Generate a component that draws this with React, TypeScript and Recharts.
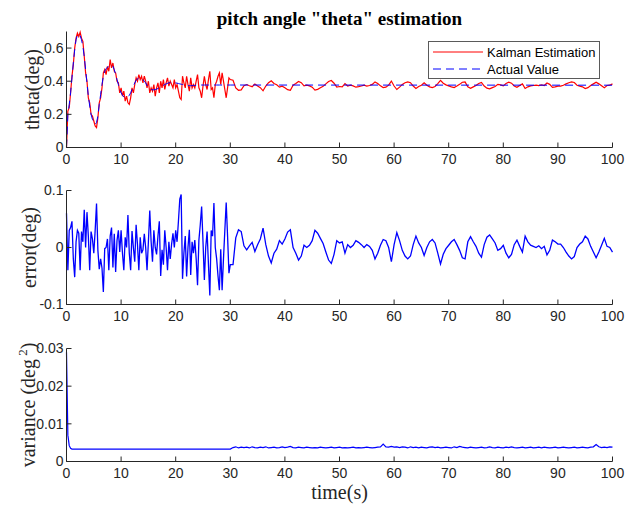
import React from "react"
import { LineChart, Line, XAxis, YAxis, Legend } from "recharts"

// samples: 0..30 s every 0.25 s, then 30.5..100 s every 0.5 s
const errFast = [
  0.06, -0.04, 0.03, 0.035,
  0.046, -0.02, -0.052, 0.01,
  0.03, 0.025, -0.04, 0.028,
  0.01, 0.066, 0.0, 0.062,
  0.02, -0.04, 0.028, 0.015,
  -0.01, 0.03, 0.077, -0.005,
  -0.038, -0.02, -0.036, -0.078,
  -0.002, 0.0, 0.015, -0.04,
  0.02, 0.035, -0.035, 0.024,
  -0.043, 0.012, 0.03, -0.008,
  0.03, -0.01, -0.04, 0.018,
  0.0, 0.057, -0.01, -0.04,
  0.029, 0.0, -0.025, 0.04,
  0.005, -0.04, 0.018, -0.01,
  -0.004, 0.024, 0.0, -0.04,
  0.01, 0.065, 0.01, -0.025,
  0.03, 0.0, -0.012, 0.02,
  0.046, -0.05, -0.004, -0.03,
  0.03, 0.0, -0.04, 0.01,
  -0.02, 0.006, 0.025, 0.0,
  0.03, 0.01, 0.046, 0.085,
  0.093, -0.055, -0.01, 0.02,
  -0.051, 0.0, 0.031, -0.048,
  0.01, -0.01, 0.013, -0.02,
  -0.066, 0.013, 0.04, 0.072,
  0.01, -0.057, 0.0, 0.028,
  -0.03, -0.084, 0.03, 0.02,
  0.078, 0.0, -0.02, -0.05,
  -0.075, -0.003, -0.075, -0.02,
  0.03, 0.079, 0.02, -0.045,
  -0.03,
]
const errSlow = [
  -0.03, 0.017, 0.031, 0.028, 0.003, -0.004, 0.003, 0.009, -0.007, 0.005,
  0.015, 0.034, 0.005, -0.015, -0.027, -0.01, -0.003, 0.012, 0.006, 0.015,
  0.027, 0.031, 0.0, -0.01, -0.022, -0.015, 0.004, 0.0, 0.004, 0.012,
  0.03, 0.025, 0.016, 0.007, -0.008, -0.022, -0.028, -0.012, 0.012, 0.008,
  0.01, -0.01, 0.005, 0.0, 0.004, 0.012, 0.009, 0.005, 0.0, 0.005,
  0.002, -0.005, -0.02, -0.01, 0.004, 0.014, 0.012, 0.0, -0.025, 0.005,
  0.026, 0.012, -0.005, -0.015, -0.02, -0.015, 0.005, 0.02, 0.008, 0.0,
  -0.014, 0.0, 0.01, 0.014, 0.008, -0.01, -0.029, -0.012, -0.002, 0.004,
  0.01, 0.014, 0.005, -0.005, -0.018, -0.02, 0.01, 0.019, 0.01, 0.002,
  -0.01, -0.017, 0.005, 0.018, 0.022, 0.015, 0.008, -0.005, -0.002, 0.004,
  -0.01, -0.018, -0.012, 0.005, 0.013, 0.002, -0.008, 0.02, 0.01, 0.004,
  0.002, 0.0, 0.003, -0.002, 0.002, -0.013, -0.005, 0.013, 0.01, 0.006,
  0.006, 0.0, -0.008, -0.015, -0.02, -0.016, 0.0, 0.006, 0.01, 0.02,
  0.015, 0.002, -0.008, -0.018, -0.008, 0.004, 0.016, 0.002, 0.0, -0.008,
]
const estFast = [
  0.0, 0.22, 0.24, 0.33,
  0.43, 0.5, 0.6, 0.66,
  0.69, 0.67, 0.695, 0.66,
  0.64, 0.55, 0.45, 0.4,
  0.3, 0.27, 0.2, 0.19,
  0.16, 0.13, 0.12, 0.18,
  0.27, 0.3, 0.36, 0.45,
  0.47, 0.44, 0.49, 0.46,
  0.53, 0.48, 0.51, 0.46,
  0.45, 0.4, 0.39, 0.33,
  0.36, 0.31, 0.34, 0.28,
  0.31, 0.27, 0.26, 0.3,
  0.36, 0.33, 0.38, 0.42,
  0.4, 0.44, 0.41, 0.43,
  0.39, 0.43, 0.4, 0.36,
  0.4, 0.33, 0.36, 0.34,
  0.38, 0.31, 0.36, 0.39,
  0.33, 0.4, 0.36, 0.41,
  0.35, 0.39, 0.42, 0.37,
  0.4, 0.38, 0.36, 0.41,
  0.36, 0.38, 0.34, 0.3,
  0.29, 0.43, 0.39, 0.36,
  0.43, 0.38, 0.34, 0.42,
  0.36, 0.38, 0.36, 0.4,
  0.44, 0.36, 0.34, 0.3,
  0.37, 0.43, 0.38, 0.35,
  0.41, 0.46, 0.35, 0.36,
  0.3, 0.38, 0.4, 0.43,
  0.45, 0.38, 0.45, 0.4,
  0.35, 0.3, 0.36, 0.42,
  0.41,
]
const estSlow = [
  0.406, 0.359, 0.345, 0.348, 0.373, 0.38, 0.373, 0.367, 0.383, 0.371,
  0.361, 0.342, 0.371, 0.391, 0.403, 0.386, 0.379, 0.364, 0.37, 0.361,
  0.349, 0.345, 0.376, 0.386, 0.398, 0.391, 0.372, 0.376, 0.372, 0.364,
  0.346, 0.351, 0.36, 0.369, 0.384, 0.398, 0.404, 0.388, 0.364, 0.368,
  0.366, 0.386, 0.371, 0.376, 0.372, 0.364, 0.367, 0.371, 0.376, 0.371,
  0.374, 0.381, 0.396, 0.386, 0.372, 0.362, 0.364, 0.376, 0.401, 0.371,
  0.35, 0.364, 0.381, 0.391, 0.396, 0.391, 0.371, 0.356, 0.368, 0.376,
  0.39, 0.376, 0.366, 0.362, 0.368, 0.386, 0.405, 0.388, 0.378, 0.372,
  0.366, 0.362, 0.371, 0.381, 0.394, 0.396, 0.366, 0.357, 0.366, 0.374,
  0.386, 0.393, 0.371, 0.358, 0.354, 0.361, 0.368, 0.381, 0.378, 0.372,
  0.386, 0.394, 0.388, 0.371, 0.363, 0.374, 0.384, 0.356, 0.366, 0.372,
  0.374, 0.376, 0.373, 0.378, 0.374, 0.389, 0.381, 0.363, 0.366, 0.37,
  0.37, 0.376, 0.384, 0.391, 0.396, 0.392, 0.376, 0.37, 0.366, 0.356,
  0.361, 0.374, 0.384, 0.394, 0.384, 0.372, 0.36, 0.374, 0.376, 0.384,
]
const actualFast = [
  0.0, 0.2, 0.26, 0.33,
  0.42, 0.51, 0.59, 0.65,
  0.68, 0.685, 0.675, 0.65,
  0.61, 0.55, 0.47, 0.39,
  0.31, 0.25, 0.2, 0.17,
  0.15, 0.14, 0.15, 0.19,
  0.26, 0.32, 0.38, 0.43,
  0.46, 0.475, 0.485, 0.49,
  0.495, 0.5, 0.49, 0.47,
  0.44, 0.41, 0.38, 0.35,
  0.33, 0.315, 0.305, 0.3,
  0.3, 0.305, 0.315, 0.33,
  0.35, 0.37, 0.39, 0.405,
  0.415, 0.42, 0.42, 0.415,
  0.41, 0.4, 0.39, 0.375,
  0.365, 0.355, 0.35, 0.348,
  0.348, 0.35, 0.352, 0.356,
  0.36, 0.365, 0.37, 0.375,
  0.38, 0.384, 0.387, 0.39,
  0.392, 0.393, 0.393, 0.392,
  0.39, 0.388, 0.386, 0.384,
  0.382, 0.38, 0.378, 0.376,
  0.375, 0.374, 0.373, 0.373,
  0.373, 0.374, 0.375, 0.376,
  0.377, 0.377, 0.377, 0.377,
  0.377, 0.377, 0.377, 0.377,
  0.377, 0.377, 0.377, 0.377,
  0.377, 0.377, 0.377, 0.377,
  0.377, 0.377, 0.377, 0.377,
  0.377, 0.377, 0.377, 0.377,
  0.377,
]
const actualEnd = 0.376
const varHeadTime = [0, 0.25, 0.5, 0.75, 1, 30]
const varHead = [0.029, 0.007, 0.0042, 0.0035, 0.0033, 0.0033]
const varSlow = [
  0.0037, 0.0039, 0.0036, 0.0038, 0.0037, 0.0038, 0.0036, 0.0039, 0.0037, 0.0036,
  0.0038, 0.0037, 0.0039, 0.0036, 0.0037, 0.0038, 0.0036, 0.0037, 0.0039, 0.0037,
  0.0038, 0.004, 0.0037, 0.0036, 0.0038, 0.0037, 0.0036, 0.0038, 0.0037, 0.0036,
  0.0037, 0.0036, 0.0038, 0.0037, 0.0036, 0.0037, 0.0038, 0.0036, 0.0037, 0.0038,
  0.0036, 0.0037, 0.0036, 0.0037, 0.0038, 0.0036, 0.0037, 0.0036, 0.0037, 0.0038,
  0.0037, 0.0036, 0.0037, 0.0038, 0.0039, 0.0046, 0.0039, 0.0038, 0.004, 0.0038,
  0.0039, 0.0037, 0.0039, 0.0038, 0.0036, 0.0039, 0.0037, 0.0038, 0.0036, 0.0038,
  0.0037, 0.0036, 0.0038, 0.0039, 0.0037, 0.0038, 0.0036, 0.0037, 0.0038, 0.0037,
  0.0036, 0.0039, 0.0037, 0.004, 0.0038, 0.0037, 0.0036, 0.0038, 0.0037, 0.0036,
  0.0037, 0.0038, 0.0036, 0.0037, 0.0039, 0.0037, 0.0036, 0.0038, 0.0037, 0.0036,
  0.0038, 0.0037, 0.0039, 0.0037, 0.0036, 0.0037, 0.0038, 0.0036, 0.0037, 0.0038,
  0.0036, 0.0037, 0.0038, 0.0036, 0.0038, 0.0037, 0.0036, 0.0037, 0.0038, 0.0036,
  0.0037, 0.0038, 0.0037, 0.0036, 0.0037, 0.0038, 0.0036, 0.0037, 0.0038, 0.0037,
  0.0036, 0.0038, 0.0039, 0.0045, 0.0039, 0.0037, 0.0038, 0.0037, 0.0039, 0.0038,
]

const timeTicks = [0, 10, 20, 30, 40, 50, 60, 70, 80, 90, 100]
const thetaTicks = [0, 0.2, 0.4, 0.6]
const errorTicks = [-0.1, 0, 0.1]
const varTicks = [0, 0.01, 0.02, 0.03]
const legendOrder = ["Kalman Estimation", "Actual Value"]

const tFast = errFast.map((_, i) => i * 0.25)
const tSlow = errSlow.map((_, i) => 30.5 + i * 0.5)

const estRows = [
  ...tFast.map((t, i) => ({ t, v: estFast[i] })),
  ...tSlow.map((t, i) => ({ t, v: estSlow[i] })),
]
const actRows = [...tFast.map((t, i) => ({ t, v: actualFast[i] })), { t: 100, v: actualEnd }]
const errRows = [
  ...tFast.map((t, i) => ({ t, v: errFast[i] })),
  ...tSlow.map((t, i) => ({ t, v: errSlow[i] })),
]
const varRows = [
  ...varHeadTime.map((t, i) => ({ t, v: varHead[i] })),
  ...tSlow.map((t, i) => ({ t, v: varSlow[i] })),
]

const INK = "#262626"
const SERIF = "'Liberation Serif', 'Times New Roman', serif"
const SANS = "'Liberation Sans', Arial, sans-serif"
const tickFont = { fill: INK, fontSize: 14, fontFamily: SANS }

function SideLabel(props: any) {
  const { viewBox, text, base, cy, sup } = props
  const mid = viewBox && viewBox.height ? viewBox.y + viewBox.height / 2 : cy
  return (
    <text
      x={base}
      y={mid}
      transform={`rotate(-90 ${base} ${mid})`}
      textAnchor="middle"
      fontFamily={SERIF}
      fontSize={20}
      fill={INK}
    >
      {text}
      {sup ? (
        <>
          <tspan dy={-8} fontSize={13}>{" " + sup}</tspan>
          <tspan dy={8}>)</tspan>
        </>
      ) : null}
    </text>
  )
}

// box with inward ticks on all four sides, like the matlab default
function frame(yDomain: number[], yTicks: number[], label: any) {
  return [
    <XAxis key="xb" xAxisId="b" dataKey="t" type="number" domain={[0, 100]} ticks={timeTicks}
      interval={0} height={20} stroke={INK} tickSize={-5} tickMargin={12} tick={tickFont} />,
    <XAxis key="xt" xAxisId="t" orientation="top" dataKey="t" type="number" domain={[0, 100]}
      ticks={timeTicks} interval={0} height={0} stroke={INK} tickSize={-5} tick={false} />,
    <YAxis key="yl" yAxisId="l" type="number" domain={yDomain} ticks={yTicks} interval={0}
      width={60} stroke={INK} tickSize={-5} tickMargin={8} tick={tickFont} label={label} />,
    <YAxis key="yr" yAxisId="r" orientation="right" type="number" domain={yDomain} ticks={yTicks}
      interval={0} width={0} stroke={INK} tickSize={-5} tick={false} />,
  ]
}

function ThetaLegend(props: any) {
  const items = [...(props.payload || [])].sort(
    (a: any, b: any) => legendOrder.indexOf(a.value) - legendOrder.indexOf(b.value)
  )
  return (
    <div style={{ width: 172, height: 38, boxSizing: "border-box", border: "1px solid #5a5a5a", background: "#fff" }}>
      <svg width={170} height={36} style={{ display: "block" }}>
        {items.map((it: any, i: number) => (
          <g key={it.value}>
            <line x1={4} x2={54} y1={10 + i * 17} y2={10 + i * 17} stroke={it.color}
              strokeDasharray={it.payload && it.payload.strokeDasharray} />
            <text x={58} y={14.5 + i * 17} fontFamily={SANS} fontSize={13} fill="#000">{it.value}</text>
          </g>
        ))}
      </svg>
    </div>
  )
}

export default function App() {
  return (
    <div style={{ position: "absolute", left: 0, top: 0, width: 626, height: 508, background: "#fff" }}>
      <div style={{ position: "absolute", left: 0, top: 0 }}>
        <LineChart width={626} height={170} margin={{ top: 31.5, right: 13.5, bottom: 2.5, left: 6.5 }}>
          {frame([0, 0.7], thetaTicks, <SideLabel text="theta(deg)" base={39} cy={89.5} />)}
          <Line xAxisId="b" yAxisId="l" data={estRows} dataKey="v" name="Kalman Estimation" type="linear"
            stroke="#ff0000" strokeWidth={1.2} dot={false} isAnimationActive={false} />
          <Line xAxisId="b" yAxisId="l" data={actRows} dataKey="v" name="Actual Value" type="linear"
            stroke="#0000ff" strokeWidth={1} strokeDasharray="8 5" dot={false} isAnimationActive={false} />
          <Legend content={ThetaLegend} layout="horizontal" verticalAlign="middle" align="center"
            wrapperStyle={{ left: 428, top: 41, width: 172, height: 38 }} />
        </LineChart>
      </div>
      <div style={{ position: "absolute", left: 0, top: 170 }}>
        <LineChart width={626} height={170} data={errRows} margin={{ top: 20.5, right: 13.5, bottom: 15.5, left: 6.5 }}>
          {frame([-0.1, 0.1], errorTicks, <SideLabel text="error(deg)" base={35.5} cy={77.5} />)}
          <Line xAxisId="b" yAxisId="l" dataKey="v" type="linear" stroke="#0000ff" strokeWidth={1.3}
            dot={false} isAnimationActive={false} />
        </LineChart>
      </div>
      <div style={{ position: "absolute", left: 0, top: 340 }}>
        <LineChart width={626} height={168} data={varRows} margin={{ top: 8.5, right: 13.5, bottom: 26.5, left: 6.5 }}>
          {frame([0, 0.03], varTicks, <SideLabel text="variance (deg" sup="2" base={35} cy={65} />)}
          <Line xAxisId="b" yAxisId="l" dataKey="v" type="linear" stroke="#0000ff" strokeWidth={1.2}
            dot={false} isAnimationActive={false} />
        </LineChart>
      </div>
      <svg width={626} height={508} style={{ position: "absolute", left: 0, top: 0, pointerEvents: "none" }}>
        <text x={339.5} y={25} textAnchor="middle" fontFamily={SERIF} fontWeight="bold" fontSize={19} fill="#000">
          pitch angle "theta" estimation
        </text>
        <text x={339.5} y={499} textAnchor="middle" fontFamily={SERIF} fontSize={20} fill={INK}>
          time(s)
        </text>
      </svg>
    </div>
  )
}
